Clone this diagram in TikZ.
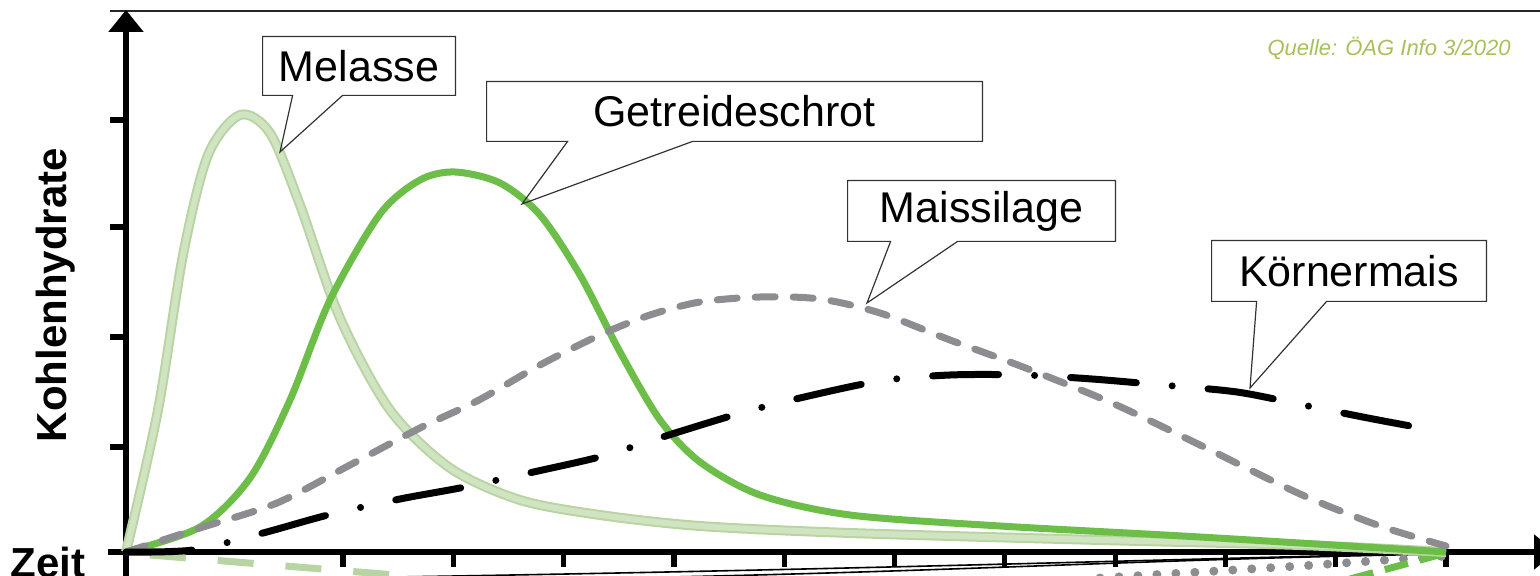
\documentclass[tikz,border=0pt]{standalone}
\usepackage{fontspec}
\setmainfont{Liberation Sans}
\usetikzlibrary{arrows.meta}
\definecolor{melouter}{RGB}{184,212,163}
\definecolor{melinner}{RGB}{208,228,194}
\definecolor{schrot}{RGB}{108,190,72}
\definecolor{silage}{RGB}{140,140,145}
\definecolor{quelle}{RGB}{168,192,90}
\tikzstyle{callbox} = [rectangle, inner sep=0pt, text centered, font=\fontsize{21.5}{24}\selectfont]
\tikzstyle{callline} = [draw=black!80, line width=0.6pt]
\tikzstyle{tick} = [line width=2.6pt]
\tikzstyle{melasse} = [line width=1pt, draw=melouter, double=melinner, double distance=3pt]
\tikzstyle{getreide} = [line width=3.5pt, draw=schrot]
\tikzstyle{mais} = [line width=3.5pt, draw=silage, line cap=round, dash pattern=on 10pt off 9pt]
\tikzstyle{koerner} = [line width=3.5pt, line cap=round, dash pattern=on 33pt off 18pt on 0pt off 18pt]

\begin{document}
\begin{tikzpicture}[x=0.5pt,y=-0.5pt]
  \useasboundingbox (0,0) rectangle (1540,576);
  % frame and axes
  \draw[line width=1pt, black!85] (110,11) -- (1540,11);
  \draw[line width=3pt, -{Triangle[length=11pt,width=17pt]}] (126,580) -- (126,10);
  \draw[line width=2.6pt, -{Triangle[length=11pt,width=17pt]}] (108,552) -- (1556,552);
  \foreach \y in {120,227,337,447}
    \draw[tick] (110,\y) -- (126,\y);
  \foreach \i in {0,...,10}
    \draw[tick] ({343+110.3*\i},552) -- ++(0,15);
  \draw (56,295) node[rotate=90, font=\bfseries\fontsize{21}{24}\selectfont](ylab){Kohlenhydrate};
  \draw (48,577) node[anchor=base, font=\bfseries\fontsize{21}{24}\selectfont](xlab){Zeit};
  \draw (1389,48) node[font=\itshape\fontsize{11}{13}\selectfont, text=quelle](src){Quelle: ÖAG Info 3/2020};

  % mirrored bits below the axis
  \draw[line width=3.5pt, melouter, dash pattern=on 18pt off 16pt, dash phase=22pt] (126,553) -- (420,577);
  \draw[line width=0.8pt] (330,578) .. controls (800,571) and (1100,561) .. (1446,553);
  \draw[line width=0.8pt] (620,578) .. controls (950,572) and (1150,559) .. (1446,554);
  \draw[line width=4.5pt, silage, line cap=round, dash pattern=on 0pt off 9.5pt] (1100,578) -- (1300,566) -- (1446,556);
  \draw[line width=3.5pt, schrot, dash pattern=on 12pt off 6pt] (1350,579) -- (1446,553);

  % curves
  \draw[melasse] plot[smooth] coordinates {(126,552) (158,410) (183,255) (208,155) (240,115) (270,133) (300,205) (340,318) (390,410) (450,468) (520,500) (600,515) (700,526) (850,533) (1100,540) (1300,545) (1446,552)};
  \draw[getreide] plot[smooth] coordinates {(126,552) (200,527) (250,478) (290,400) (330,300) (380,214) (420,180) (455,172) (500,183) (540,215) (580,275) (620,352) (660,420) (700,462) (760,495) (850,515) (1000,526) (1200,537) (1446,552)};
  \draw[mais] plot[smooth] coordinates {(126,552) (200,528) (277,503) (350,465) (420,428) (479,400) (540,365) (600,335) (650,315) (700,302) (760,297) (820,299) (880,313) (950,340) (1023,367) (1112,403) (1200,445) (1300,494) (1380,526) (1446,546)};
  \draw[koerner] plot[smooth] coordinates {(126,552) (193,550) (263,533) (328,515) (400,499) (465,487) (538,471) (603,456) (672,434) (741,413) (800,398) (880,381) (950,375) (1023,375) (1092,379) (1162,385) (1237,392) (1303,405) (1373,419) (1443,432)};

  % callouts
  \draw (359,66) node[callbox, minimum width=96pt, minimum height=29pt](mel){Melasse};
  \draw (734.5,111.5) node[callbox, minimum width=247.5pt, minimum height=29.5pt](schrot){Getreideschrot};
  \draw (981.5,211) node[callbox, minimum width=133.5pt, minimum height=30pt](silage){Maissilage};
  \draw (1349,271) node[callbox, minimum width=137pt, minimum height=30pt](koerner){Körnermais};
  \coordinate (melTip) at (280,152);
  \coordinate (schrotTip) at (522,204);
  \coordinate (silageTip) at (867,303);
  \coordinate (koernerTip) at (1250,388);
  \draw[callline] (mel.north west) -| (mel.south east) -- ([xshift=40pt]mel.south west) -- (melTip) -- ([xshift=15pt]mel.south west) -- (mel.south west) -- cycle;
  \draw[callline] (schrot.north west) -| (schrot.south east) -- ([xshift=103pt]schrot.south west) -- (schrotTip) -- ([xshift=40.5pt]schrot.south west) -- (schrot.south west) -- cycle;
  \draw[callline] (silage.north west) -| (silage.south east) -- ([xshift=55pt]silage.south west) -- (silageTip) -- ([xshift=21.5pt]silage.south west) -- (silage.south west) -- cycle;
  \draw[callline] (koerner.north west) -| (koerner.south east) -- ([xshift=57.5pt]koerner.south west) -- (koernerTip) -- ([xshift=22.5pt]koerner.south west) -- (koerner.south west) -- cycle;
\end{tikzpicture}
\end{document}
